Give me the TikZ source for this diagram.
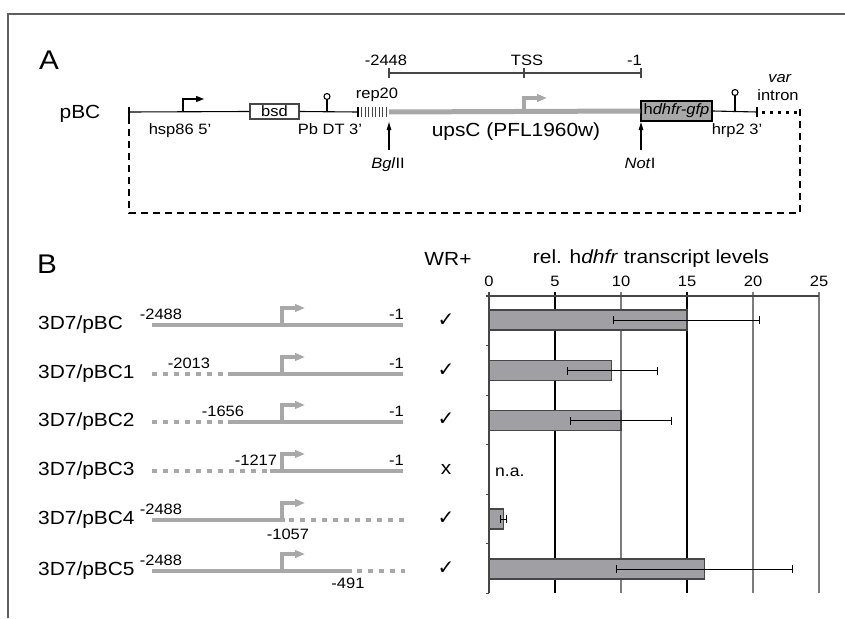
\documentclass[tikz,border=0pt]{standalone}
\usepackage{fontspec}
\setmainfont[FakeStretch=1.1]{Liberation Sans}
\newfontfamily\checkfont{DejaVu Sans}
\usetikzlibrary{arrows.meta,calc,positioning}

\definecolor{seqgray}{RGB}{168,168,168}
\definecolor{bargray}{RGB}{160,160,164}
\definecolor{edgegray}{RGB}{70,70,70}
\definecolor{framegray}{RGB}{95,95,95}
\definecolor{gridgray}{RGB}{125,125,125}
\newcommand{\fs}[1]{\fontsize{#1}{#1}\selectfont}

\begin{document}
\begin{tikzpicture}[x=1pt, y=-1pt,
  lbl/.style={inner sep=0pt, font=\fs{15}},
  rowname/.style={inner sep=0pt, font=\fs{19}},
  ticklbl/.style={inner sep=0pt, font=\fs{15}},
  panel/.style={inner sep=0pt, font=\fs{27}},
  chk/.style={inner sep=0pt, font=\checkfont\fs{20}},
  vec/.style={line width=1.1pt},
  seq/.style={line width=4pt, seqgray},
  del/.style={seq, dash pattern=on 5pt off 6pt},
  prom/.style={line width=1.3pt, -{Triangle[length=8pt, width=6pt]}},
  gprom/.style={seqgray, line width=3.2pt, -{Triangle[length=10pt, width=7.5pt]}},
  site/.style={line width=1.1pt, -{Triangle[length=8pt, width=4.5pt]}},
  bar/.style={draw=edgegray, fill=bargray, line width=1.2pt},
  err/.style={line width=1pt, {Bar[width=8pt]}-{Bar[width=8pt]}},
  gridln/.style={line width=1.3pt}]
\useasboundingbox (0,0) rectangle (845,618);
\draw[framegray, line width=2pt] (8,618) -- (8,14) -- (845,14);

% ---- panel A: pBC construct
\node[panel, anchor=base] (labA) at (49,70) {A};
\node[rowname, anchor=base] (pbc) at (80,118) {pBC};
\node[draw=edgegray, fill=white, line width=1.2pt, minimum width=49pt, minimum height=15pt,
      inner sep=0pt, font=\fs{15}] (bsd) at (274.5,111.5) {bsd};
\node[draw, fill=seqgray, line width=1.4pt, minimum width=71pt, minimum height=20pt,
      inner sep=0pt, font=\fs{15}] (hdhfr) at (676.5,111) {h\textit{dhfr-gfp}};
\coordinate (vL) at (129,112);
\coordinate (repL) at (358,112);
\coordinate (upsL) at (389,112);
\coordinate (hrpR) at (757,112);
\coordinate (vR) at (800,112);
\draw[vec] (vL) -- (bsd.west);
\draw[vec] (bsd.east) -- (repL);
\draw[vec] (hdhfr.east) -- (hrpR);
\foreach \x in {129,358,757} \draw[vec] (\x,107) -- (\x,117);
\foreach \x in {361.5,365,...,388} \draw[line width=0.9pt, edgegray] (\x,107) -- (\x,117);
\draw[seq, line width=5pt] (upsL) -- (hdhfr.west);
\draw[line width=3pt, dash pattern=on 3pt off 5pt] (762,112) -- (vR);
\draw[vec, dash pattern=on 7pt off 5pt] (129,117) -- (129,213) -- (800,213) -- (800,107);
% promoters and terminators
\draw[prom] (183,112) -- (183,99) -- (204,99);
\draw[gprom] (524,112) -- (524,98) -- (547,98);
\draw[vec] (327,112) -- (327,100);
\draw[vec] (327,96.5) circle (3pt);
\draw[vec] (735,112) -- (735,96);
\draw[vec] (735,92.5) circle (3pt);
% ruler
\draw[vec, edgegray] (389,73) -- (641,73);
\foreach \x in {389,524,641} \draw[vec, edgegray] (\x,68) -- (\x,78);
\node[lbl, anchor=base] (rulL) at (386,65) {-2448};
\node[lbl, anchor=base] (tss) at (527,65) {TSS};
\node[lbl, anchor=base east] (rulR) at (642,65) {-1};
% labels
\node[lbl, anchor=base] (rep) at (377,98) {rep20};
\node[lbl, anchor=base] (var) at (780,82) {\textit{var}};
\node[lbl, anchor=base] (intron) at (778,100) {intron};
\node[lbl, anchor=base] (hsp) at (180,134) {hsp86 5'};
\node[lbl, anchor=base] (pbdt) at (330,134) {Pb DT 3'};
\node[lbl, anchor=base] (hrp) at (737,134) {hrp2 3'};
\node[rowname, anchor=base] (ups) at (516,136) {upsC (PFL1960w)};
\node[lbl, anchor=base] (bgl) at (388,168) {\textit{Bgl}II};
\node[lbl, anchor=base] (notI) at (640,168) {\textit{Not}I};
\coordinate (bglT) at (389,150);
\coordinate (bglS) at (389,122);
\coordinate (notT) at (641,150);
\coordinate (notS) at (641,122);
\draw[site] (bglT) -- (bglS);
\draw[site] (notT) -- (notS);

% ---- panel B: deletion constructs
\node[panel, anchor=base] (labB) at (47,273) {B};
\node[rowname, anchor=base] (wr) at (448,265) {WR+};
\node[rowname, anchor=base] (xtitle) at (651,263) {rel. h\textit{dhfr} transcript levels};

% 3D7/pBC
\node[rowname, anchor=base west] (row0) at (38,329) {3D7/pBC};
\draw[seq] (152,325) -- (403,325);
\draw[gprom] (282,325) -- (282,308) -- (305,308);
\node[lbl, anchor=base] (s0) at (161,319) {-2488};
\node[lbl, anchor=base east] (e0) at (404,319) {-1};
\node[chk] (c0) at (446,320) {✓};
% 3D7/pBC1
\node[rowname, anchor=base west] (row1) at (38,378) {3D7/pBC1};
\draw[del] (152,374) -- (224,374);
\draw[seq] (228,374) -- (403,374);
\draw[gprom] (282,374) -- (282,357) -- (305,357);
\node[lbl, anchor=base] (s1) at (189,368) {-2013};
\node[lbl, anchor=base east] (e1) at (404,368) {-1};
\node[chk] (c1) at (446,370) {✓};
% 3D7/pBC2
\node[rowname, anchor=base west] (row2) at (38,426) {3D7/pBC2};
\draw[del] (152,422) -- (224,422);
\draw[seq] (228,422) -- (403,422);
\draw[gprom] (282,422) -- (282,405) -- (305,405);
\node[lbl, anchor=base] (s2) at (223,416) {-1656};
\node[lbl, anchor=base east] (e2) at (404,416) {-1};
\node[chk] (c2) at (446,419) {✓};
% 3D7/pBC3
\node[rowname, anchor=base west] (row3) at (38,475) {3D7/pBC3};
\draw[del] (152,471) -- (267,471);
\draw[seq] (270,471) -- (403,471);
\draw[gprom] (282,471) -- (282,454) -- (305,454);
\node[lbl, anchor=base] (s3) at (256,465) {-1217};
\node[lbl, anchor=base east] (e3) at (404,465) {-1};
\node[rowname] (c3) at (446,469) {x};
% 3D7/pBC4
\node[rowname, anchor=base west] (row4) at (38,524) {3D7/pBC4};
\draw[seq] (152,520) -- (285,520);
\draw[del] (289,520) -- (405,520);
\draw[gprom] (282,520) -- (282,503) -- (305,503);
\node[lbl, anchor=base] (s4) at (161,514) {-2488};
\node[lbl, anchor=base] (e4) at (288,539) {-1057};
\node[chk] (c4) at (446,518) {✓};
% 3D7/pBC5
\node[rowname, anchor=base west] (row5) at (38,575) {3D7/pBC5};
\draw[seq] (152,571) -- (352,571);
\draw[del] (357,571) -- (405,571);
\draw[gprom] (282,571) -- (282,554) -- (305,554);
\node[lbl, anchor=base] (s5) at (161,565) {-2488};
\node[lbl, anchor=base] (e5) at (348,588) {-491};
\node[chk] (c5) at (446,568) {✓};

% ---- bar chart
\begin{scope}[shift={(489,0)}, x=13.2pt]
  \foreach \v/\c in {5/black,10/gridgray,15/black,20/gridgray,25/gridgray}
    \draw[gridln, \c] (\v,292) -- (\v,593);
  \foreach \v in {0,5,...,25}
    \node[ticklbl, anchor=base] (t\v) at (\v,286) {\v};
  \draw[gridln, edgegray] (-0.25,296) -- (25,296);
  \draw[gridln, edgegray] (0,292) -- (0,593);
  \foreach \y in {345.5,395,444.5,494,543.5,593}
    \draw[line width=1pt, edgegray] (-0.25,\y) -- (0,\y);
  \draw[bar] (0,310) rectangle (15,330);
  \draw[err] (9.4,320) -- (20.5,320);
  \draw[bar] (0,360.5) rectangle (9.3,380.5);
  \draw[err] (5.9,370.5) -- (12.8,370.5);
  \draw[bar] (0,410.5) rectangle (10,430.5);
  \draw[err] (6.1,420.5) -- (13.9,420.5);
  \node[inner sep=0pt, font=\fs{16}, anchor=base west] (na) at (0.45,476) {n.a.};
  \draw[bar] (0,509) rectangle (1.1,529);
  \draw[err] (0.85,519) -- (1.4,519);
  \draw[bar] (0,559) rectangle (16.3,579);
  \draw[err] (9.6,569) -- (23,569);
\end{scope}
\end{tikzpicture}
\end{document}
